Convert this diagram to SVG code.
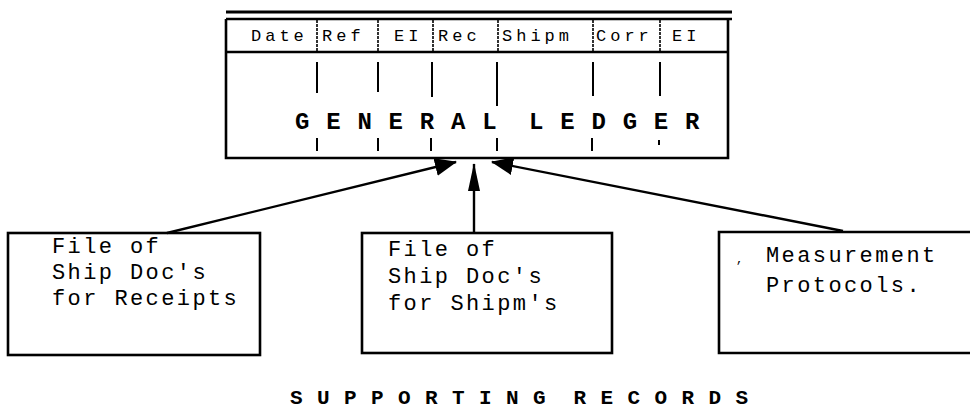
<svg xmlns="http://www.w3.org/2000/svg" width="970" height="420" viewBox="0 0 970 420">
<style>
.box{fill:none;stroke:#000;stroke-width:2.6}
.ln{stroke:#000;stroke-width:2.4;fill:none}
.tk{stroke:#000;stroke-width:2}
.sep{stroke:#000;stroke-width:1.6;stroke-dasharray:3 1}
.t{font-family:"Liberation Mono","Courier New",monospace;fill:#000;white-space:pre}
.hd{font-size:17px;letter-spacing:4px}
.big{font-size:24px;font-weight:bold;letter-spacing:1.2px}
.sup{font-size:21px;font-weight:bold;letter-spacing:0.9px}
.bx{font-size:22px;letter-spacing:2.4px}
</style>
<defs>
<marker id="ah" viewBox="0 0 22 18" refX="21" refY="9" markerWidth="22" markerHeight="18" markerUnits="userSpaceOnUse" orient="auto">
<path d="M0,0 L22,9 L0,18 Z" fill="#000"/>
</marker>
<marker id="ahm" viewBox="0 0 28 14" refX="27" refY="7" markerWidth="28" markerHeight="14" markerUnits="userSpaceOnUse" orient="auto">
<path d="M0,1 L28,7 L0,13 Z" fill="#000"/>
</marker>
</defs>
<rect width="970" height="420" fill="#fff"/>

<g id="ledger">
<line class="ln" x1="226" y1="12" x2="732" y2="12" style="stroke-width:3"/>
<line class="ln" x1="226" y1="19" x2="732" y2="19"/>
<path class="box" d="M226,19 L226,158 L728,158 L728,19"/>
<line class="ln" x1="226" y1="52" x2="728" y2="52"/>
<g>
<line class="sep" x1="317" y1="20" x2="317" y2="51"/>
<line class="sep" x1="378" y1="20" x2="378" y2="51"/>
<line class="sep" x1="433" y1="20" x2="433" y2="51"/>
<line class="sep" x1="498" y1="20" x2="498" y2="51"/>
<line class="sep" x1="593" y1="20" x2="593" y2="51"/>
<line class="sep" x1="660" y1="20" x2="660" y2="51"/>
</g>
<text class="t hd" x="251" y="41">Date</text>
<text class="t hd" x="322" y="41">Ref</text>
<text class="t hd" x="394" y="41">EI</text>
<text class="t hd" x="438" y="41">Rec</text>
<text class="t hd" x="502" y="41">Shipm</text>
<text class="t hd" x="596" y="41">Corr</text>
<text class="t hd" x="672" y="41">EI</text>
<g>
<line class="tk" x1="317" y1="62" x2="317" y2="93"/>
<line class="tk" x1="378" y1="62" x2="378" y2="92"/>
<line class="tk" x1="432" y1="62" x2="432" y2="97"/>
<line class="tk" x1="497" y1="62" x2="497" y2="106"/>
<line class="tk" x1="593" y1="62" x2="593" y2="96"/>
<line class="tk" x1="660" y1="62" x2="660" y2="96"/>
</g>
<text class="t big" x="295" y="129" xml:space="preserve">G E N E R A L  L E D G E R</text>
<g>
<line class="tk" x1="317" y1="138" x2="317" y2="151"/>
<line class="tk" x1="378" y1="138" x2="378" y2="151"/>
<line class="tk" x1="431" y1="138" x2="431" y2="151"/>
<line class="tk" x1="497" y1="138" x2="497" y2="151"/>
<line class="tk" x1="592" y1="138" x2="592" y2="151"/>
<line class="tk" x1="659" y1="140" x2="659" y2="145"/>
</g>
</g>

<g id="receipts">
<rect class="box" x="8" y="233" width="252" height="122"/>
<text class="t bx" x="52" y="253">File of</text>
<text class="t bx" x="52" y="279">Ship Doc's</text>
<text class="t bx" x="52" y="305">for Receipts</text>
</g>

<g id="shipments">
<rect class="box" x="362" y="233" width="250" height="120"/>
<text class="t bx" x="388" y="256">File of</text>
<text class="t bx" x="388" y="283">Ship Doc's</text>
<text class="t bx" x="388" y="310">for Shipm's</text>
</g>

<g id="protocols">
<path class="box" d="M972,232 L719,232 L719,353 L972,353"/>
<text class="t" x="736" y="263" style="font-size:12px">,</text>
<text class="t bx" x="766" y="262">Measurement</text>
<text class="t bx" x="766" y="292">Protocols.</text>
</g>

<g id="connectors">
<line class="ln" x1="167" y1="233" x2="456" y2="162" marker-end="url(#ah)"/>
<line class="ln" x1="474" y1="232" x2="474" y2="164" marker-end="url(#ahm)"/>
<line class="ln" x1="843" y1="231" x2="492" y2="162" marker-end="url(#ah)"/>
</g>

<text class="t sup" x="290" y="404" xml:space="preserve">S U P P O R T I N G  R E C O R D S</text>
</svg>
